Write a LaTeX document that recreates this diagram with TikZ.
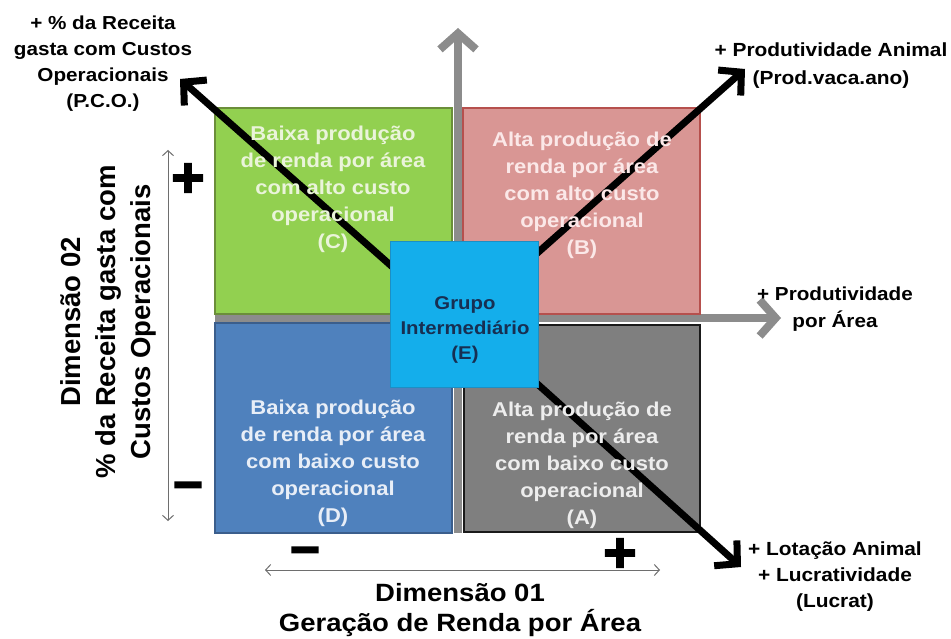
\documentclass[tikz,border=0pt]{standalone}
\usepackage{fontspec}
\setmainfont{Liberation Sans}[FakeStretch=1.1]
\newfontfamily\vfont{Liberation Sans}
\newfontfamily\symfont{DejaVu Sans Bold}[FakeBold=6]
\usetikzlibrary{arrows.meta}
\definecolor{cgreen}{HTML}{92D050}
\definecolor{cgreenB}{HTML}{6B8E3A}
\definecolor{cpink}{HTML}{D99694}
\definecolor{cpinkB}{HTML}{B6504D}
\definecolor{cblue}{HTML}{4F81BD}
\definecolor{cblueB}{HTML}{3B5E8C}
\definecolor{cgray}{HTML}{7F7F7F}
\definecolor{cgrayB}{HTML}{1A1A1A}
\definecolor{cE}{HTML}{14AEEB}
\definecolor{cEB}{HTML}{1C8FC4}
\definecolor{cEtext}{HTML}{172F52}
\definecolor{carrow}{HTML}{8C8C8C}
\definecolor{cthin}{HTML}{6E6E6E}
\definecolor{tC}{HTML}{EAF4DA}
\definecolor{tB}{HTML}{FBE8E8}
\definecolor{tD}{HTML}{E8EEF7}
\definecolor{tA}{HTML}{EDEDED}
\begin{document}
\begin{tikzpicture}[x=1pt,y=-1pt,
  quad/.style={draw, line width=2.5pt, inner sep=0pt, outer sep=0pt},
  qtext/.style={align=center, inner sep=0pt, font=\bfseries\fontsize{20}{27}\selectfont},
  lab/.style={align=center, inner sep=0pt, font=\bfseries\fontsize{18.8}{26}\selectfont},
  grayarrow/.style={draw=carrow, line width=8pt, -{Straight Barb[length=16pt,width=36pt]}},
  blackarrow/.style={draw=black, line width=7pt, -{Straight Barb[length=16pt,width=34pt]}},
  thinarrow/.style={draw=cthin, line width=1pt, {Straight Barb[length=5pt,width=11pt]}-{Straight Barb[length=5pt,width=11pt]}},
  sign/.style={inner sep=0pt, font=\symfont\fontsize{44}{44}\selectfont},
  minussign/.style={inner sep=0pt, font=\symfont\fontsize{40}{40}\selectfont}
]
\useasboundingbox (0,0) rectangle (951,639);
\fill[white] (0,0) rectangle (951,639);

% gray axes (behind the boxes)
\coordinate (gv0) at (458,533);
\coordinate (gv1) at (458,28);
\coordinate (gh0) at (215,318);
\coordinate (gh1) at (781,318);
\draw[grayarrow] (gv0) -- (gv1);
\draw[grayarrow] (gh0) -- (gh1);

% quadrants
\node[quad, fill=cgreen, draw=cgreenB, minimum width=237pt, minimum height=206pt] (C) at (333.5,211) {};
\node[quad, fill=cpink, draw=cpinkB, minimum width=237pt, minimum height=206pt] (B) at (581.5,211) {};
\node[quad, fill=cblue, draw=cblueB, minimum width=237pt, minimum height=210pt] (D) at (333.5,428) {};
\node[quad, fill=cgray, draw=cgrayB, minimum width=236pt, minimum height=207pt] (A) at (582,428.5) {};

% black diagonal arrows
\coordinate (sNW) at (440,309);
\coordinate (sC) at (464,318);
\coordinate (tipNW) at (180,79);
\coordinate (tipNE) at (745,69);
\coordinate (tipSE) at (741,567);
\draw[blackarrow] (sNW) -- (tipNW);
\draw[blackarrow] (sC) -- (tipNE);
\draw[blackarrow] (sC) -- (tipSE);

% quadrant texts
\node[qtext, text=tC] (txC) at (333,189) {Baixa produção\\de renda por área\\com alto custo\\operacional\\(C)};
\node[qtext, text=tB] (txB) at (582,195) {Alta produção de\\renda por área\\com alto custo\\operacional\\(B)};
\node[qtext, text=tD] (txD) at (333,463) {Baixa produção\\de renda por área\\com baixo custo\\operacional\\(D)};
\node[qtext, text=tA] (txA) at (582,465) {Alta produção de\\renda por área\\com baixo custo\\operacional\\(A)};

% central group
\node[draw=cEB, line width=1pt, fill=cE, minimum width=148pt, minimum height=145pt, inner sep=0pt] (E) at (464,314.5) {};
\node[align=center, inner sep=0pt, text=cEtext, font=\bfseries\fontsize{18.5}{25}\selectfont] (txE) at (465,330) {Grupo\\Intermediário\\(E)};

% outer labels
\node[lab] (lPCO) at (103,64) {+ \% da Receita\\gasta com Custos\\Operacionais\\(P.C.O.)};
\node[lab, font=\bfseries\fontsize{19}{28}\selectfont] (lAnim) at (831,66) {+ Produtividade Animal\\(Prod.vaca.ano)};
\node[lab, font=\bfseries\fontsize{18.8}{27}\selectfont] (lArea) at (835,309) {+ Produtividade\\por Área};
\node[lab, font=\bfseries\fontsize{19}{26}\selectfont] (lLuc) at (835,577) {+ Lotação Animal\\+ Lucratividade\\(Lucrat)};
\node[align=center, inner sep=0pt, font=\bfseries\fontsize{25}{30}\selectfont] (lDim1) at (460,610) {Dimensão 01\\Geração de Renda por Área};
\node[align=center, inner sep=0pt, rotate=90, font=\vfont\bfseries\fontsize{27.5}{35}\selectfont] (lDim2) at (108,322) {Dimensão 02\\\% da Receita gasta com\\Custos Operacionais};

% thin dimension arrows
\coordinate (va) at (168,150);
\coordinate (vb) at (168,521);
\coordinate (ha) at (265,570);
\coordinate (hb) at (660,570);
\draw[thinarrow] (va) -- (vb);
\draw[thinarrow] (ha) -- (hb);

% signs
\node[sign] (pL) at (188,178) {+};
\node[minussign] (mL) at (188,490) {−};
\node[minussign] (mB) at (305,555) {−};
\node[sign] (pB) at (620,553) {+};
\end{tikzpicture}
\end{document}
